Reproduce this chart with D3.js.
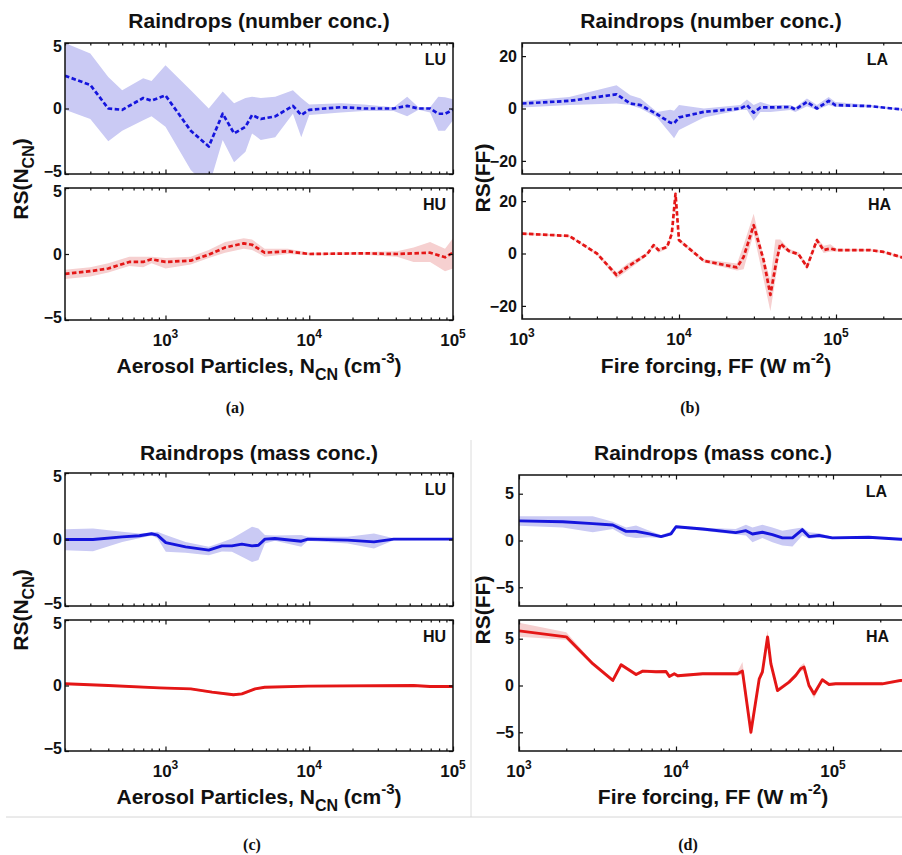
<!DOCTYPE html>
<html>
<head>
<meta charset="utf-8">
<script src="https://cdn.jsdelivr.net/npm/d3@7"></script>
<style>
  body { margin: 0; background: #fff; }
  text { font-family: "Liberation Sans", Arial, sans-serif; font-weight: bold; fill: #111; }
  .panel-letter { font-family: "Liberation Serif", "Times New Roman", serif; font-size: 16px; }
</style>
</head>
<body>
<div id="chart"></div>
<script>
// ---- data (x in cm^-3 or W m^-2, y = RS) ----

// (a) number conc., aerosol particles, LU
var luNumX  = [200, 300, 400, 500, 700, 800, 1000, 1500, 2000, 2500, 3000, 3600, 4000, 4600, 5800, 7700, 8800, 10000, 16600, 24000, 38700, 48000, 57600, 69300, 79000, 88000, 100000];
var luNumY  = [2.5, 1.8, 0, -0.1, 0.8, 0.6, 1.0, -1.7, -2.9, -0.4, -1.9, -1.4, -0.5, -0.8, -0.6, 0.2, -0.5, -0.1, 0.1, 0, 0, 0.2, 0, 0, -0.4, -0.4, -0.1];
var luNumHi = [5.0, 4.2, 2.4, 1.4, 2.3, 2.1, 3.3, 1.4, 0, 1.3, 0.4, 0.8, 0.9, 0.8, 0.9, 1.4, 0.8, 0.3, 0.4, 0.3, 0.1, 0.9, 0.1, 0.1, 0.9, 0.85, 0.7];
var luNumLo = [-0.1, -0.8, -2.5, -1.7, -0.9, -0.6, -1.4, -4.7, -6.0, -2.4, -4.1, -3.3, -1.9, -2.4, -2.2, -0.4, -2.2, -0.5, -0.3, -0.2, -0.2, -0.6, -0.1, -0.3, -1.7, -1.7, -0.9];

// (a) number conc., aerosol particles, HU
var huNumX  = [200, 300, 400, 560, 700, 800, 1000, 1500, 2000, 2600, 3500, 4000, 4900, 7100, 10000, 24000, 40800, 53200, 69300, 88000, 100000];
var huNumY  = [-1.5, -1.3, -1.1, -0.6, -0.6, -0.4, -0.6, -0.5, -0.05, 0.5, 0.8, 0.7, 0.1, 0.2, 0, 0.05, 0, 0.05, 0.1, -0.25, 0.1];
var huNumHi = [-1.2, -1.0, -0.7, -0.2, -0.2, -0.2, -0.3, -0.2, 0.3, 0.9, 1.2, 1.1, 0.4, 0.4, 0.1, 0.15, 0.2, 0.5, 0.9, 0.4, 1.2];
var huNumLo = [-1.9, -1.7, -1.4, -0.9, -1.0, -0.7, -1.1, -0.8, -0.3, 0.1, 0.4, 0.3, -0.2, 0, -0.1, -0.05, -0.2, -0.6, -0.6, -1.3, -1.1];

// (b) number conc., fire forcing, LA
var laNumX  = [1000, 2000, 4000, 4900, 5700, 7250, 8800, 9300, 10000, 14400, 24600, 27100, 29900, 33000, 38200, 51200, 55100, 65300, 75600, 89800, 99000, 165000, 264000, 300000];
var laNumY  = [1.9, 2.9, 5.4, 1.9, 1.3, -2.2, -5.4, -5.7, -3.4, -1.3, 0, 1.3, -1.6, 0.4, 0.4, 0.6, -0.4, 2.5, 0, 2.9, 1.3, 0.9, -0.4, -0.6];
var laNumHi = [2.9, 4.4, 8.9, 5.1, 3.8, -1.3, -0.5, -0.9, 1.3, 0, 1.3, 3.4, 1.3, 2.5, 1.3, 1.3, 0.5, 3.8, 1.3, 4.4, 2.5, 1.3, 0, -0.2];
var laNumLo = [0.4, 1.3, 1.9, 1.3, 0, -3.4, -9.5, -11.4, -8.2, -3.4, -0.6, -0.6, -4.7, -1.3, -1.3, -0.6, -1.3, 0.9, -0.6, 1.3, 0.6, 0.5, -0.8, -1.0];

// (b) number conc., fire forcing, HA
var haNumX  = [1000, 2000, 3000, 4000, 4700, 6250, 6900, 7400, 8400, 9000, 9500, 10000, 14400, 23400, 25800, 29900, 34600, 38200, 41100, 44200, 50000, 57800, 65300, 75600, 83400, 92000, 101000, 165000, 201000, 264000, 300000];
var haNumY  = [7.6, 6.7, 0, -8.2, -5.1, -0.3, 3.2, 1.3, 2.5, 7.6, 22.8, 5.1, -2.8, -5.3, -1.3, 10.8, -2.5, -15.8, -5.1, 3.8, 1.0, -0.3, -5.1, 5.1, 1.3, 1.9, 1.3, 1.3, 0.6, -1.5, -1.8];
var haNumHi = [8.0, 7.1, 0.5, -7.2, -3.8, 0.3, 3.8, 2.0, 3.0, 8.5, 23.5, 5.8, -2.2, -3.8, 3.2, 15.2, -1.3, -10, 5.3, 5.3, 1.8, 0.5, -4.0, 6.0, 3.0, 3.5, 1.8, 1.7, 1.0, -1.1, -1.4];
var haNumLo = [7.2, 6.3, -0.5, -9.5, -6.5, -0.9, 2.6, 0.3, 1.8, 6.8, 22.0, 4.4, -3.4, -6.5, -6.0, 7.6, -10, -22, -10, 2.5, 0.3, -1.0, -6.2, 4.2, 0.2, 0.8, 0.8, 0.9, 0.2, -1.9, -2.2];

// (c) mass conc., aerosol particles, LU
var luMassX  = [200, 313, 500, 658, 800, 879, 1005, 1380, 2000, 2470, 2900, 3400, 4000, 4430, 4920, 5770, 8800, 9790, 18500, 28200, 38700, 100000];
var luMassY  = [0, 0, 0.2, 0.28, 0.43, 0.33, -0.23, -0.55, -0.8, -0.48, -0.48, -0.35, -0.48, -0.43, 0.03, 0.08, -0.13, 0.03, -0.05, -0.18, 0.03, 0.03];
var luMassHi = [0.78, 0.83, 0.58, 0.45, 0.53, 0.58, 0.33, -0.18, -0.55, -0.2, 0.08, 0.5, 0.96, 0.83, 0.33, 0.3, 0.33, 0.2, 0.2, 0.45, 0.1, 0.08];
var luMassLo = [-0.8, -0.88, -0.18, 0.1, 0.3, 0.1, -0.93, -1.0, -1.18, -0.9, -0.93, -1.3, -1.69, -1.55, -0.3, -0.1, -0.55, -0.1, -0.3, -0.68, -0.05, -0.02];

// (c) mass conc., aerosol particles, HU
var huMassX  = [200, 400, 904, 1500, 2110, 2970, 3400, 4200, 4900, 9800, 53200, 69300, 100000];
var huMassY  = [0.13, 0, -0.18, -0.26, -0.51, -0.71, -0.64, -0.26, -0.13, -0.05, 0, -0.08, -0.08];
var huMassHi = [0.2, 0.07, -0.1, -0.18, -0.42, -0.6, -0.55, -0.18, -0.05, 0.03, 0.08, 0, 0];
var huMassLo = [0.05, -0.07, -0.26, -0.34, -0.62, -0.82, -0.75, -0.36, -0.21, -0.13, -0.08, -0.16, -0.18];

// (d) mass conc., fire forcing, LA
var laMassX  = [1000, 1900, 2950, 3960, 4810, 5570, 6770, 8030, 9290, 10000, 14800, 24000, 27900, 30700, 35500, 41100, 47600, 55200, 63800, 70300, 81500, 99000, 169000, 270000, 300000];
var laMassY  = [2.1, 2.0, 1.8, 1.65, 0.98, 0.98, 0.7, 0.42, 0.7, 1.47, 1.23, 0.84, 1.05, 0.7, 0.88, 0.63, 0.28, 0.28, 1.16, 0.42, 0.53, 0.28, 0.35, 0.14, 0.1];
var laMassHi = [2.6, 2.6, 2.6, 2.0, 1.4, 1.6, 1.05, 0.6, 0.95, 1.6, 1.35, 1.23, 1.68, 1.4, 1.68, 1.4, 1.05, 1.23, 1.4, 0.88, 0.77, 0.4, 0.45, 0.22, 0.18];
var laMassLo = [1.58, 1.4, 0.88, 1.23, 0.42, 0.28, 0.35, 0.28, 0.53, 1.33, 1.05, 0.63, 0.53, -0.18, 0.28, -0.18, -0.53, -0.63, 0.53, 0.18, 0.35, 0.15, 0.25, 0.06, 0.02];

// (d) mass conc., fire forcing, HA
var haMassX  = [1000, 2000, 2950, 3960, 4470, 5570, 6140, 7460, 8640, 9070, 9750, 10250, 14800, 24600, 26500, 30000, 33900, 35500, 38300, 40200, 44300, 52500, 57900, 62200, 65400, 70300, 75700, 85500, 94400, 104000, 206000, 270000, 300000];
var haMassY  = [5.84, 5.2, 2.33, 0.54, 2.22, 1.18, 1.54, 1.47, 1.5, 0.97, 1.25, 1.04, 1.25, 1.25, 1.54, -5.0, 0.72, 1.43, 5.2, 2.33, -0.54, 0.36, 1.08, 1.79, 1.97, 0, -0.9, 0.61, 0.11, 0.18, 0.18, 0.54, 0.6];
var haMassHi = [6.7, 5.7, 2.5, 0.7, 2.4, 1.35, 1.7, 1.65, 1.65, 1.15, 1.4, 1.2, 1.4, 1.45, 2.5, -4.3, 1.2, 1.9, 5.9, 2.6, -0.3, 0.55, 1.3, 2.1, 2.4, 0.3, -0.6, 0.8, 0.3, 0.35, 0.35, 0.7, 0.75];
var haMassLo = [5.2, 4.9, 2.1, 0.35, 2.0, 1.0, 1.35, 1.3, 1.3, 0.8, 1.05, 0.85, 1.1, 1.05, 1.2, -5.4, 0.4, 1.1, 4.6, 2.0, -0.75, 0.15, 0.85, 1.5, 1.6, -0.3, -1.4, 0.4, -0.05, 0.02, 0.02, 0.35, 0.4];

var majorTicks = [1e3, 1e4, 1e5];
var majorExp = ['3', '4', '5'];

var BLUE = '#1515dd', BLUE_BAND = '#cacaf4';
var RED = '#e41616', RED_BAND = '#f6d0d0';

var W = 902, H = 855;
var svg = d3.select('#chart').append('svg')
    .attr('width', W)
    .attr('height', H);

svg.append('rect').attr('width', W).attr('height', H).attr('fill', '#fff');

// separators between panels
svg.append('line').attr('x1', 471).attr('x2', 471).attr('y1', 440).attr('y2', 817)
    .attr('stroke', '#dcdcdc').attr('stroke-width', 1);
svg.append('line').attr('x1', 6).attr('x2', W).attr('y1', 817).attr('y2', 817)
    .attr('stroke', '#d6d6d6').attr('stroke-width', 1);

// x scales (log)
var xAer = d3.scaleLog().domain([200, 1e5]).range([65, 453]);
var xFireB = d3.scaleLog().domain([1e3, 3e5]).range([522, 522 + Math.log10(300) * 157]);
var xFireD = d3.scaleLog().domain([1e3, 3e5]).range([519, 519 + Math.log10(300) * 157]);

function minorTicks(x) {
    var d = x.domain(), out = [];
    for (var e = Math.floor(Math.log10(d[0])); e <= Math.ceil(Math.log10(d[1])); e++) {
        for (var k = 2; k <= 9; k++) {
            var v = k * Math.pow(10, e);
            if (v >= d[0] && v <= d[1]) out.push(v);
        }
    }
    return out;
}

var clipCount = 0;

function subplot(p) {
    var x = p.x;
    var xr = x.range();
    var y = d3.scaleLinear().domain(p.yDom).range([p.bottom, p.top]);
    var g = svg.append('g');

    var id = 'clip' + (clipCount++);
    g.append('clipPath').attr('id', id)
        .append('rect')
        .attr('x', xr[0]).attr('y', p.top)
        .attr('width', xr[1] - xr[0]).attr('height', p.bottom - p.top);

    var pts = p.xs.map(function(v, i) {
        return {x: v, y: p.ys[i], lo: p.lo[i], hi: p.hi[i]};
    });

    var area = d3.area()
        .x(function(d) { return x(d.x); })
        .y0(function(d) { return y(d.lo); })
        .y1(function(d) { return y(d.hi); });
    var line = d3.line()
        .x(function(d) { return x(d.x); })
        .y(function(d) { return y(d.y); });

    var plot = g.append('g').attr('clip-path', 'url(#' + id + ')');
    plot.append('path').datum(pts)
        .attr('d', area)
        .attr('fill', p.band);
    plot.append('path').datum(pts)
        .attr('d', line)
        .attr('fill', 'none')
        .attr('stroke', p.color)
        .attr('stroke-width', p.dashed ? 2.7 : 2.9)
        .attr('stroke-dasharray', p.dashed ? '4.5,2.5' : null)
        .attr('stroke-linejoin', 'round');

    // inward ticks, matlab style
    function tickAxis(axis, tx, ty) {
        var a = g.append('g').attr('transform', 'translate(' + tx + ',' + ty + ')').call(axis);
        a.select('.domain').remove();
        a.selectAll('line').attr('stroke', '#111').attr('stroke-width', 1.2);
        return a;
    }
    tickAxis(d3.axisBottom(x).tickValues(majorTicks).tickSize(-4.5).tickFormat(''), 0, p.bottom);
    tickAxis(d3.axisTop(x).tickValues(majorTicks).tickSize(-4.5).tickFormat(''), 0, p.top);
    tickAxis(d3.axisBottom(x).tickValues(minorTicks(x)).tickSize(-2.5).tickFormat(''), 0, p.bottom);
    tickAxis(d3.axisTop(x).tickValues(minorTicks(x)).tickSize(-2.5).tickFormat(''), 0, p.top);
    tickAxis(d3.axisRight(y).tickValues(p.yTicks).tickSize(-4).tickFormat(''), xr[1], 0);

    var yl = tickAxis(d3.axisLeft(y).tickValues(p.yTicks).tickSize(-4).tickPadding(p.yPad), xr[0], 0);
    yl.selectAll('text')
        .style('font-family', '"Liberation Sans", Arial, sans-serif')
        .style('font-weight', 'bold')
        .style('font-size', '16px')
        .attr('fill', '#111')
        // keep labels sitting on the frame edges from running into the next subplot
        .attr('dy', function(d) {
            if (y(d) <= p.top + 1) return '0.55em';
            if (y(d) >= p.bottom - 1) return '0.15em';
            return '0.32em';
        });

    // frame
    g.append('rect')
        .attr('x', xr[0]).attr('y', p.top)
        .attr('width', xr[1] - xr[0]).attr('height', p.bottom - p.top)
        .attr('fill', 'none')
        .attr('stroke', '#111')
        .attr('stroke-width', 1.5);

    // case tag
    g.append('text')
        .attr('x', p.tagX).attr('y', p.top + 22)
        .attr('text-anchor', 'end')
        .style('font-size', '16px')
        .text(p.tag);

    if (p.xLabels) {
        majorTicks.forEach(function(v, i) {
            var t = g.append('text')
                .attr('x', x(v)).attr('y', p.bottom + 26)
                .attr('text-anchor', 'middle')
                .style('font-size', '17px');
            t.append('tspan').text('10');
            t.append('tspan').attr('dy', -8).style('font-size', '12px').text(majorExp[i]);
        });
    }
    return g;
}

function title(txt, cx, yb) {
    svg.append('text').attr('x', cx).attr('y', yb)
        .attr('text-anchor', 'middle')
        .style('font-size', '21px')
        .text(txt);
}

function xTitle(parts, cx, yb) {
    var t = svg.append('text').attr('x', cx).attr('y', yb)
        .attr('text-anchor', 'middle')
        .style('font-size', '21px');
    parts.forEach(function(s) {
        var ts = t.append('tspan').text(s[0]);
        if (s[1] === 'sub') ts.attr('dy', 7).style('font-size', '16px');
        else if (s[1] === 'sup') ts.attr('dy', -10).style('font-size', '15px');
        else if (s[1] === 'back') ts.attr('dy', s[2]);
    });
}

function yTitle(parts, xb, cy) {
    var t = svg.append('text')
        .attr('transform', 'translate(' + xb + ',' + cy + ') rotate(-90)')
        .attr('text-anchor', 'middle')
        .style('font-size', '21px');
    parts.forEach(function(s) {
        var ts = t.append('tspan').text(s[0]);
        if (s[1] === 'sub') ts.attr('dy', 6).style('font-size', '16px');
        else if (s[1] === 'back') ts.attr('dy', s[2]);
    });
}

function panelLetter(txt, cx, yb) {
    svg.append('text').attr('class', 'panel-letter')
        .attr('x', cx).attr('y', yb)
        .attr('text-anchor', 'middle')
        .text(txt);
}

var aerosolTitle = [['Aerosol Particles, N'], ['CN', 'sub'], [' (cm', 'back', -7], ['-3', 'sup'], [')', 'back', 10]];
var fireTitle = [['Fire forcing, FF (W m'], ['-2', 'sup'], [')', 'back', 10]];
var rsN = [['RS(N'], ['CN', 'sub'], [')', 'back', -6]];
var rsF = [['RS(FF)']];

// ---- (a) ----
title('Raindrops (number conc.)', 259, 28);
subplot({x: xAer, top: 43, bottom: 174, yDom: [-5, 5], yTicks: [-5, 0, 5], yPad: 3,
    xs: luNumX, ys: luNumY, lo: luNumLo, hi: luNumHi, color: BLUE, band: BLUE_BAND, dashed: true,
    tag: 'LU', tagX: 446});
subplot({x: xAer, top: 188, bottom: 320, yDom: [-5, 5], yTicks: [-5, 0, 5], yPad: 3,
    xs: huNumX, ys: huNumY, lo: huNumLo, hi: huNumHi, color: RED, band: RED_BAND, dashed: true,
    tag: 'HU', tagX: 446, xLabels: true});
xTitle(aerosolTitle, 259, 373);
yTitle(rsN, 28, 179);
panelLetter('(a)', 235, 413);

// ---- (b) ----
title('Raindrops (number conc.)', 711, 28);
subplot({x: xFireB, top: 43, bottom: 174, yDom: [-25, 25], yTicks: [-20, 0, 20], yPad: 5,
    xs: laNumX, ys: laNumY, lo: laNumLo, hi: laNumHi, color: BLUE, band: BLUE_BAND, dashed: true,
    tag: 'LA', tagX: 888});
subplot({x: xFireB, top: 188, bottom: 319, yDom: [-25, 25], yTicks: [-20, 0, 20], yPad: 5,
    xs: haNumX, ys: haNumY, lo: haNumLo, hi: haNumHi, color: RED, band: RED_BAND, dashed: true,
    tag: 'HA', tagX: 891, xLabels: true});
xTitle(fireTitle, 716, 373);
yTitle(rsF, 490, 178);
panelLetter('(b)', 690, 413);

// ---- (c) ----
title('Raindrops (mass conc.)', 259, 460);
subplot({x: xAer, top: 473, bottom: 606, yDom: [-5, 5], yTicks: [-5, 0, 5], yPad: 3,
    xs: luMassX, ys: luMassY, lo: luMassLo, hi: luMassHi, color: BLUE, band: BLUE_BAND, dashed: false,
    tag: 'LU', tagX: 446});
subplot({x: xAer, top: 620, bottom: 751, yDom: [-5, 5], yTicks: [-5, 0, 5], yPad: 3,
    xs: huMassX, ys: huMassY, lo: huMassLo, hi: huMassHi, color: RED, band: RED_BAND, dashed: false,
    tag: 'HU', tagX: 446, xLabels: true});
xTitle(aerosolTitle, 259, 804);
yTitle(rsN, 28, 610);
panelLetter('(c)', 252, 850);

// ---- (d) ----
title('Raindrops (mass conc.)', 713, 460);
subplot({x: xFireD, top: 475, bottom: 606, yDom: [-7, 7], yTicks: [-5, 0, 5], yPad: 5,
    xs: laMassX, ys: laMassY, lo: laMassLo, hi: laMassHi, color: BLUE, band: BLUE_BAND, dashed: false,
    tag: 'LA', tagX: 887});
subplot({x: xFireD, top: 620, bottom: 751, yDom: [-7, 7], yTicks: [-5, 0, 5], yPad: 5,
    xs: haMassX, ys: haMassY, lo: haMassLo, hi: haMassHi, color: RED, band: RED_BAND, dashed: false,
    tag: 'HA', tagX: 889, xLabels: true});
xTitle(fireTitle, 713, 804);
yTitle(rsF, 490, 610);
panelLetter('(d)', 688, 850);
</script>
</body>
</html>
